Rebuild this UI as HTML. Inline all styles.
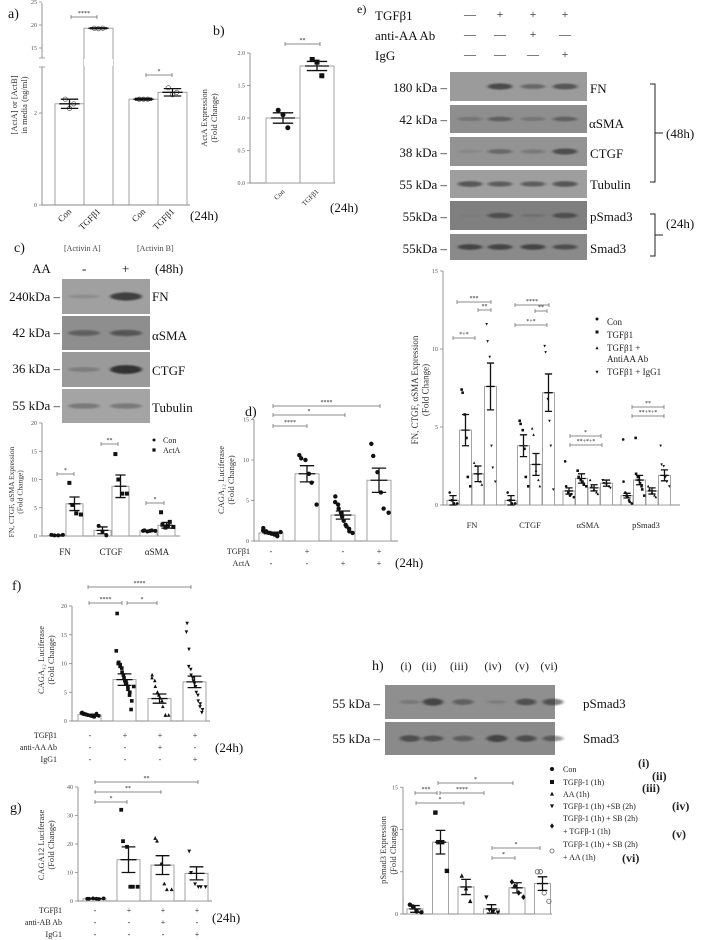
<!DOCTYPE html>
<html><head><meta charset="utf-8"><style>
html,body{margin:0;padding:0;background:#fff}
svg{display:block;font-family:"Liberation Serif",serif}
</style></head><body>
<svg id="fig" width="708" height="940" viewBox="0 0 708 940" xmlns="http://www.w3.org/2000/svg">
<defs><filter id="blur" x="-50%" y="-100%" width="200%" height="300%"><feGaussianBlur stdDeviation="1.6 0.9"/></filter></defs>
<g font-size="14" fill="#111">
<text x="8" y="18">a)</text>
<text x="213" y="35">b)</text>
<text x="357" y="13" font-size="12">e)</text>
<text x="14" y="252">c)</text>
<text x="245" y="416">d)</text>
<text x="12" y="590">f)</text>
<text x="10" y="812">g)</text>
<text x="372" y="670">h)</text>
</g>
<g font-size="13" fill="#111">
<text x="190" y="220">(24h)</text>
<text x="330" y="212">(24h)</text>
<text x="64" y="251" font-size="8" fill="#444">[Activin A]</text>
<text x="137" y="251" font-size="8" fill="#444">[Activin B]</text>
<text x="32" y="273">AA</text>
<text x="82" y="273">-</text>
<text x="122" y="273">+</text>
<text x="155" y="273">(48h)</text>
<text x="60" y="301" text-anchor="end">240kDa –</text>
<text x="60" y="337" text-anchor="end">42 kDa –</text>
<text x="60" y="373" text-anchor="end">36 kDa –</text>
<text x="60" y="410" text-anchor="end">55 kDa –</text>
<text x="152" y="301">FN</text>
<text x="152" y="340">αSMA</text>
<text x="152" y="375">CTGF</text>
<text x="152" y="412">Tubulin</text>
<text x="375" y="20">TGFβ1</text>
<text x="375" y="40">anti-AA Ab</text>
<text x="375" y="60">IgG</text>
<text x="447" y="92" text-anchor="end">180 kDa –</text>
<text x="447" y="124" text-anchor="end">42 kDa –</text>
<text x="447" y="157" text-anchor="end">38 kDa –</text>
<text x="447" y="189" text-anchor="end">55 kDa –</text>
<text x="447" y="221" text-anchor="end">55kDa –</text>
<text x="447" y="253" text-anchor="end">55kDa –</text>
<text x="590" y="93">FN</text>
<text x="589" y="128">αSMA</text>
<text x="590" y="158">CTGF</text>
<text x="590" y="189">Tubulin</text>
<text x="590" y="221">pSmad3</text>
<text x="590" y="253">Smad3</text>
<path d="M650 84 h5 v98 h-5 M655 133 h8" stroke="#222" fill="none"/>
<text x="666" y="138">(48h)</text>
<path d="M650 214 h5 v42 h-5 M655 235 h8" stroke="#222" fill="none"/>
<text x="666" y="228">(24h)</text>
<text x="395" y="567">(24h)</text>
<text x="215" y="752">(24h)</text>
<text x="212" y="922">(24h)</text>
<text x="380" y="708" text-anchor="end">55 kDa –</text>
<text x="380" y="743" text-anchor="end">55 kDa –</text>
<text x="583" y="708">pSmad3</text>
<text x="583" y="743">Smad3</text>
</g>
<g id="dyn"></g>
</svg>
<script>
// ---------- DATA ----------
const aCats=["Con","TGFβ1","Con","TGFβ1"];
const aVals=[2.2,19.3,2.3,2.45];
const aErrs=[0.1,0.1,0.02,0.08];
const aPts=[[2.3,2.1,2.2],[19.3,19.2,19.3],[2.3,2.3,2.3],[2.55,2.4,2.45]];
const aTicksLow=[0,2];
const aTicksHigh=[15,20,25];

const bCats=["Con","TGFβ1"];
const bVals=[1.0,1.8];
const bErrs=[0.08,0.07];
const bPts=[[1.12,1.05,0.85],[1.9,1.86,1.65]];
const bTicks=[0,0.5,1.0,1.5,2.0];

const cCats=["FN","CTGF","αSMA"];
const cSeries=["Con","ActA"];
const cVals=[0.1,5.7,1.0,8.8,0.9,1.9];
const cErrs=[0.1,1.2,0.6,2.0,0.1,0.5];
const cPts=[[0.2,0.1,0.1,0.2],[9.4,5.5,4,3.8],[1.8,0.8,0.1],[14.5,10,7.5,7.5],[0.9,1,0.8,0.9,1,0.9],[4.2,2,1.5,1.8,2.5,1.6]];
const cTicks=[0,5,10,15,20];

const dVals=[1.0,8.3,3.2,7.5];
const dErrs=[0.1,1.0,0.5,1.5];
const dPts=[[1.6,1.3,1.2,1.1,1,1,0.9,0.9,0.8,0.7,0.6,1.1],[10.6,10.2,10,8.3,7.2,4.5],[5.5,4.8,4.5,4,3.5,3,2.5,2,1.8,1.5,1.2,1],[12,10.5,8.5,6,4,3.5]];
const dTicks=[0,5,10,15];
const dRowTgf=["-","+","-","+"];
const dRowAct=["-","-","+","+"];

const eCats=["FN","CTGF","αSMA","pSmad3"];
const eSeries=["Con","TGFβ1","TGFβ1 + AntiAA Ab","TGFβ1 + IgG1"];
const eVals=[0.3,4.8,2.0,7.6, 0.3,3.8,2.6,7.2, 0.9,1.7,1.1,1.4, 0.6,1.6,0.9,1.9];
const eErrs=[0.3,1.0,0.5,1.5, 0.3,0.7,0.7,1.2, 0.2,0.3,0.2,0.2, 0.15,0.3,0.2,0.35];
const ePts=[[0.8,0.3,0.1,0.1],[7.4,7.2,5.8,4.3,1.8,1.2],[2.7,2.5,2.0,1.5,1.3],[11.6,10.5,9.5,3.8,2.4,1.5],
 [0.8,0.3,0.1,0.1],[5.4,5.2,4.8,3.6,1.8,1.2],[4.9,4.5,2.2,1.6,1.2],[10.2,9.8,6.8,5.4,3.8,1.0],
 [2.8,1.2,0.8,0.6,0.7,0.5],[2.2,1.8,1.6,1.5,1.3,1.2],[1.6,1.2,1.0,0.8,0.7],[1.6,1.4,1.3,1.2,1.1],
 [4.2,1.5,0.8,0.6,0.5,0.3,0.2,0.1],[4.3,2.0,1.8,1.6,1.4,1.2,1.0,0.6],[1.2,1.0,0.8,0.6,0.5],[3.8,2.6,2.5,1.8,1.5,1.2]];
const eTicks=[0,5,10,15];

const fVals=[1.1,7.2,3.9,6.8];
const fErrs=[0.1,1.0,0.8,1.0];
const fPts=[[1.5,1.4,1.3,1.2,1.2,1.1,1.1,1,1,1,0.9,0.9,0.8,0.8,0.7,1.3,1.0,0.9],
 [18.7,12.2,10.2,10,9.8,9.5,9.2,8.5,8,7.5,7,7,6.5,6,5.5,5,4.5,3.5,2,6],
 [8,7.5,7,6,5,4.5,4,3.5,2.5,1,1,1],
 [17,15.5,12.5,9.5,9,8,7.5,7,6.5,6,5,4.5,3.5,3,2.5,2,1.5]];
const fTicks=[0,5,10,15,20];
const fRowTgf=["-","+","+","+"];
const fRowAnti=["-","-","+","-"];
const fRowIgg=["-","-","-","+"];

const gVals=[0.8,14.5,12.6,9.7];
const gErrs=[0.1,4.5,3.3,2.3];
const gPts=[[0.8,0.8,0.9,0.8,0.7,0.9],[32,21,19,5,5,5],[22,21,13,6,4,4],[17.5,10,6,5,5,5]];
const gTicks=[0,10,20,30,40];
const gRowTgf=["-","+","+","+"];
const gRowAnti=["-","-","+","-"];
const gRowIgg=["-","-","-","+"];

const hVals=[0.6,8.5,3.2,0.6,3.1,3.6];
const hErrs=[0.4,1.4,0.9,0.5,0.6,0.8];
const hPts=[[1.1,0.9,0.3,0.2],[12,8.5,8.5,5.1],[4.5,3,1.5],[2,0.5,0.3,0.2],[3.8,3.3,2.5,2],[5,5,2.5,1.5]];
const hTicks=[0,5,10,15];
const hNumerals=["(i)","(ii)","(iii)","(iv)","(v)","(vi)"];

// blot band intensities
const eBlot=[[0,0.8,0.5,0.7],[0.3,0.5,0.3,0.5],[0.1,0.45,0.3,0.75],[0.7,0.6,0.6,0.7],[0.05,0.6,0.15,0.6],[0.8,0.8,0.8,0.7]];
const cBlot=[[0.15,0.9],[0.5,0.6],[0.3,1],[0.4,0.4]];
const hBlot=[[0.2,0.8,0.5,0.15,0.7,0.7],[0.7,0.6,0.5,0.8,0.65,0.55]];

// ---------- HELPERS ----------
const NS="http://www.w3.org/2000/svg";
const root=document.getElementById('dyn');
function mk(tag,attrs,name){
  const e=document.createElementNS(NS,tag);
  for(const k in attrs) e.setAttribute(k,attrs[k]);
  
  
  root.appendChild(e);return e;
}
function txt(x,y,s,size,name,extra){
  const t=mk('text',Object.assign({x:x,y:y,'font-size':size,fill:'#222'},extra||{}),name);
  t.textContent=s;return t;
}
function marker(type,x,y,r,name){
  if(type==='circle') return mk('circle',{cx:x,cy:y,r:r,fill:'#111'},name);
  if(type==='ocircle') return mk('circle',{cx:x,cy:y,r:r,fill:'none',stroke:'#666','stroke-width':0.8},name);
  if(type==='square') return mk('rect',{x:x-r,y:y-r,width:2*r,height:2*r,fill:'#111'},name);
  if(type==='tri') return mk('path',{d:`M${x} ${y-r*1.2}L${x+r} ${y+r*0.8}L${x-r} ${y+r*0.8}Z`,fill:'#111'},name);
  if(type==='itri') return mk('path',{d:`M${x} ${y+r*1.2}L${x+r} ${y-r*0.8}L${x-r} ${y-r*0.8}Z`,fill:'#111'},name);
  if(type==='diamond') return mk('path',{d:`M${x} ${y-r*1.3}L${x+r} ${y}L${x} ${y+r*1.3}L${x-r} ${y}Z`,fill:'#111'},name);
}
function bracket(x1,x2,y,label,name){
  mk('path',{d:`M${x1} ${y-2}v4M${x1} ${y}H${x2}M${x2} ${y-2}v4`,stroke:'#666','stroke-width':0.7,fill:'none'},name);
  txt((x1+x2)/2,y-2,label,6,name+'-label',{'text-anchor':'middle'});
}
function barChart(cfg,vals,errs,pts,markers){
  const n=vals.length;
  const ys=cfg.yfn||(v=>cfg.y0-v*cfg.ppu);
  const bx=i=>cfg.start+i*cfg.step+Math.floor(i/(cfg.group||n))*(cfg.gextra||0);
  for(let i=0;i<n;i++){
    const x=bx(i),y=ys(vals[i]);
    mk('rect',{x:x,y:y,width:cfg.w,height:cfg.y0-y,fill:'#fff',stroke:'#999','stroke-width':0.9},cfg.id+'-bar');
    const cx=x+cfg.w/2;
    const m=markers[i%markers.length];
    const p=pts[i];
    const spread=Math.min(cfg.w*0.8,p.length*cfg.pr*1.6);
    p.forEach((v,j)=>{
      const off=p.length>1?(j/(p.length-1)-0.5)*spread*(j%2?1:0.8):0;
      marker(m,cx+off,ys(v),cfg.pr,cfg.id+'-point');
    });
    const e1=ys(vals[i]+errs[i]),e2=ys(Math.max(0,vals[i]-errs[i]));
    mk('path',{d:`M${cx} ${e1}V${e2}M${cx-cfg.w*0.3} ${e1}h${cfg.w*0.6}M${cx-cfg.w*0.3} ${e2}h${cfg.w*0.6}M${cx-cfg.w*0.35} ${ys(vals[i])}h${cfg.w*0.7}`,stroke:'#111','stroke-width':1.3,fill:'none'},cfg.id+'-error-bar');
  }
  return bx;
}
function axes(cfg,ticks,fmt){
  const ys=cfg.yfn||(v=>cfg.y0-v*cfg.ppu);
  const top=ys(ticks[ticks.length-1]);
  mk('path',{d:`M${cfg.ax} ${top}V${cfg.y0}H${cfg.xend}`,stroke:'#888','stroke-width':0.9,fill:'none'},cfg.id+'-axes');
  ticks.forEach(t=>{
    const y=ys(t);
    mk('path',{d:`M${cfg.ax-3} ${y}H${cfg.ax}`,stroke:'#888','stroke-width':0.8},cfg.id+'-y-tick');
    txt(cfg.ax-5,y+2,fmt?fmt(t):String(t),6,cfg.id+'-y-tick-label',{'text-anchor':'end',fill:'#555'});
  });
}
function ylabel(x,y,lines,size,name){
  const t=mk('text',{transform:`translate(${x},${y}) rotate(-90)`,'font-size':size,'text-anchor':'middle',fill:'#333'},name);
  lines.forEach((l,i)=>{const s=document.createElementNS(NS,'tspan');s.setAttribute('x',0);s.setAttribute('dy',i?size*1.15:0);s.textContent=l;t.appendChild(s);});
}
function blot(x,y,w,h,lanes,ints,bg,name){
  mk('rect',{x:x,y:y,width:w,height:h,fill:bg},name);
  ints.forEach((v,i)=>{ if(v>0) mk('ellipse',{cx:lanes[i],cy:y+h/2,rx:w/lanes.length*0.36,ry:Math.max(1.2,h*0.07*(0.6+v*1.2)),fill:'#1a1a1a','fill-opacity':Math.min(0.9,v*0.8),filter:'url(#blur)'},name+'-band'); });
}

// ---------- PANEL A ----------
const aCfg={id:'a',ax:42,y0:205,xend:190,start:55,step:29,w:29,group:2,gextra:16,pr:2.2,
  yfn:v=> v<=3.5 ? 205-v*46 : 48-(v-15)*4.6};
const aBx=barChart(aCfg,aVals,aErrs,aPts,['ocircle']);
mk('path',{d:`M42 3V58M42 67V205H190`,stroke:'#888','stroke-width':0.9,fill:'none'},'a-axes');
mk('path',{d:`M39 58h6M39 67h6`,stroke:'#888','stroke-width':0.8},'a-axis-break');
mk('rect',{x:84,y:59,width:29,height:7,fill:'#fff'},'a-bar-break');
aTicksLow.concat(aTicksHigh).forEach(t=>{const y=aCfg.yfn(t);
  mk('path',{d:`M39 ${y}H42`,stroke:'#888','stroke-width':0.8},'a-y-tick');
  txt(37,y+2,String(t),6,'a-y-tick-label',{'text-anchor':'end',fill:'#555'});});
aCats.forEach((c,i)=>txt(0,0,c,9,'a-x-label',{'text-anchor':'end',transform:`translate(${aBx(i)+17},${212}) rotate(-45)`}));
bracket(71,97,17,'****','a-sig-bracket');
bracket(146,172,75,'*','a-sig-bracket');
ylabel(17,105,['[ActA] or [ActB]','in media  (ng/ml)'],8.5,'a-y-axis-title');

// ---------- PANEL B ----------
const bCfg={id:'b',ax:250,y0:183,xend:335,ppu:65,start:266,step:34,w:34,pr:2.5};
axes(bCfg,bTicks,t=>t.toFixed(1));
const bBx=barChart(bCfg,bVals,bErrs,bPts,['circle','square']);
bCats.forEach((c,i)=>txt(0,0,c,7,'b-x-label',{'text-anchor':'end',transform:`translate(${bBx(i)+19},${192}) rotate(-45)`}));
bracket(285,320,44,'**','b-sig-bracket');
ylabel(207,118,['ActA Expression','(Fold Change)'],8.5,'b-y-axis-title');

// ---------- PANEL E ----------
const eLanes=[470,500,533,565];
const eRows=[[72,29,'#9b9b9b'],[105,28,'#8e8e8e'],[137,29,'#939393'],[170,28,'#9e9e9e'],[201,29,'#7f7f7f'],[234,26,'#8a8a8a']];
eRows.forEach((r,i)=>blot(450,r[0],137,r[1],eLanes,eBlot[i],r[2],'e-blot-row'));
[["—","+","+","+"],["—","—","+","—"],["—","—","—","+"]].forEach((row,ri)=>row.forEach((s,i)=>txt(eLanes[i],18+ri*20,s,12,'e-header-sign',{'text-anchor':'middle'})));
const eCfg={id:'e',ax:443,y0:505,xend:680,ppu:15.6,start:447,step:12.5,w:12,group:4,gextra:8,pr:1.3};
axes(eCfg,eTicks);
const eBx=barChart(eCfg,eVals,eErrs,ePts,['circle','square','tri','itri']);
eCats.forEach((c,i)=>txt(eBx(i*4)+25,528,c,8.5,'e-x-label',{'text-anchor':'middle'}));
[[302,457,491,'***'],[310,478,491,'**'],[338,453,475,'*+*'],[305,515,549,'****'],[311,535,547,'**'],[325,515,547,'*+*'],[436,570,601,'*'],[445,570,602,'**+*+*'],[407,632,664,'**'],[416,632,664,'**+*+*']]
 .forEach(b=>bracket(b[1],b[2],b[0],b[3],'e-sig-bracket'));
ylabel(418,390,['FN, CTGF, αSMA Expression','(Fold Change)'],9,'e-y-axis-title');
const eLegY=[322,335,351,375];
['circle','square','tri','itri'].forEach((m,i)=>{marker(m,597,eLegY[i]-3,1.5,'e-legend-marker');});
txt(607,325,'Con',9,'e-legend-con');
txt(607,338,'TGFβ1',9,'e-legend-tgf');
txt(607,351,'TGFβ1 +',9,'e-legend-anti-1');
txt(607,362,'AntiAA Ab',9,'e-legend-anti-2');
txt(607,375,'TGFβ1 + IgG1',9,'e-legend-igg');

// ---------- PANEL C ----------
const cLanes=[84,126];
[[279,35,'#a0a0a0'],[316,34,'#8e8e8e'],[352,35,'#9a9a9a'],[389,34,'#a4a4a4']].forEach((r,i)=>blot(62,r[0],88,r[1],cLanes,cBlot[i],r[2],'c-blot-row'));
const cCfg={id:'c',ax:42,y0:536,xend:180,ppu:5.65,start:48,step:18,w:17,group:2,gextra:10,pr:2};
axes(cCfg,cTicks);
const cBx=barChart(cCfg,cVals,cErrs,cPts,['circle','square']);
cCats.forEach((c,i)=>txt(cBx(i*2)+17,555,c,9,'c-x-label',{'text-anchor':'middle'}));
bracket(57,74,474,'*','c-sig-bracket');
bracket(101,118,444,'**','c-sig-bracket');
bracket(146,164,503,'*','c-sig-bracket');
ylabel(14,492,['FN, CTGF, αSMA Expression','(Fold Change)'],7.5,'c-y-axis-title');
marker('circle',154,440,1.5,'c-legend-marker');marker('square',154,450,1.6,'c-legend-marker');
txt(163,443,cSeries[0],8,'c-legend-con');txt(163,453,cSeries[1],8,'c-legend-acta');

// ---------- PANEL D ----------
const dCfg={id:'d',ax:254,y0:541,xend:398,ppu:8.1,start:259,step:36,w:24,pr:2.2};
axes(dCfg,dTicks);
const dBx=barChart(dCfg,dVals,dErrs,dPts,['circle']);
txt(250,554,'TGFβ1',8,'d-row-tgf-label',{'text-anchor':'end'});
txt(250,566,'ActA',8,'d-row-acta-label',{'text-anchor':'end'});
dRowTgf.forEach((s,i)=>txt(dBx(i)+12,554,s,8,'d-row-tgf-sign',{'text-anchor':'middle'}));
dRowAct.forEach((s,i)=>txt(dBx(i)+12,566,s,8,'d-row-acta-sign',{'text-anchor':'middle'}));
bracket(273,380,406,'****','d-sig-bracket');
bracket(273,345,415,'*','d-sig-bracket');
bracket(273,307,426,'****','d-sig-bracket');
ylabel(224,480,['CAGA₁₂ Luciferase','(Fold Change)'],8.5,'d-y-axis-title');

// ---------- PANEL F ----------
const fCfg={id:'f',ax:72,y0:721,xend:210,ppu:5.75,start:78,step:35,w:23,pr:1.8};
axes(fCfg,fTicks);
const fBx=barChart(fCfg,fVals,fErrs,fPts,['circle','square','tri','itri']);
txt(57,738,'TGFβ1',8,'f-row-tgf-label',{'text-anchor':'end'});
txt(57,750,'anti-AA Ab',8,'f-row-anti-label',{'text-anchor':'end'});
txt(57,762,'IgG1',8,'f-row-igg-label',{'text-anchor':'end'});
[[fRowTgf,738],[fRowAnti,750],[fRowIgg,762]].forEach(r=>r[0].forEach((s,i)=>txt(fBx(i)+12,r[1],s,8,'f-row-sign',{'text-anchor':'middle'})));
bracket(88,191,587,'****','f-sig-bracket');
bracket(89,122,603,'****','f-sig-bracket');
bracket(127,157,603,'*','f-sig-bracket');
ylabel(44,660,['CAGA₁₂ Luciferase','(Fold Change)'],8.5,'f-y-axis-title');

// ---------- PANEL G ----------
const gCfg={id:'g',ax:78,y0:901,xend:212,ppu:2.85,start:83,step:34,w:23,pr:1.9};
axes(gCfg,gTicks);
const gBx=barChart(gCfg,gVals,gErrs,gPts,['circle','square','tri','itri']);
txt(62,913,'TGFβ1',8,'g-row-tgf-label',{'text-anchor':'end'});
txt(62,925,'anti-AB Ab',8,'g-row-anti-label',{'text-anchor':'end'});
txt(62,937,'IgG1',8,'g-row-igg-label',{'text-anchor':'end'});
[[gRowTgf,913],[gRowAnti,925],[gRowIgg,937]].forEach(r=>r[0].forEach((s,i)=>txt(gBx(i)+12,r[1],s,8,'g-row-sign',{'text-anchor':'middle'})));
bracket(95,198,782,'**','g-sig-bracket');
bracket(95,161,792,'**','g-sig-bracket');
bracket(95,127,802,'*','g-sig-bracket');
ylabel(44,845,['CAGA12 Luciferase','(Fold Change)'],8.5,'g-y-axis-title');

// ---------- PANEL H ----------
const hLanes=[410,433,463,497,526,553];
blot(385,685,170,34,hLanes,hBlot[0],'#8f8f8f','h-blot-psmad');
blot(385,722,170,33,hLanes,hBlot[1],'#8a8a8a','h-blot-smad');
hNumerals.forEach((s,i)=>txt(hLanes[i]-4,670,s,12,'h-lane-numeral',{'text-anchor':'middle'}));
const hCfg={id:'h',ax:403,y0:914,xend:552,ppu:8.45,start:407,step:25.5,w:16,pr:2.2};
axes(hCfg,hTicks);
barChart(hCfg,hVals,hErrs,hPts,['circle','square','tri','itri','diamond','ocircle']);
bracket(415,437,793,'***','h-sig-bracket');
bracket(440,484,793,'****','h-sig-bracket');
bracket(438,513,783,'*','h-sig-bracket');
bracket(416,464,803,'*','h-sig-bracket');
bracket(492,540,848,'*','h-sig-bracket');
bracket(492,515,858,'*','h-sig-bracket');
ylabel(386,850,['pSmad3 Expression','(Fold Change)'],8.5,'h-y-axis-title');
[['circle',769],['square',782],['tri',794],['itri',806],['diamond',826],['ocircle',851]].forEach(m=>marker(m[0],552,m[1],2,'h-legend-marker'));
[['Con',772],['TGFβ-1 (1h)',785],['AA (1h)',797],['TGFβ-1 (1h) +SB (2h)',809],['TGFβ-1 (1h) + SB (2h)',821],['+ TGFβ-1 (1h)',834],['TGFβ-1 (1h) + SB (2h)',847],['+ AA (1h)',860]]
 .forEach(l=>txt(563,l[1],l[0],8,'h-legend-text'));
[['(i)',638,767],['(ii)',652,780],['(iii)',642,792],['(iv)',672,810],['(v)',672,838],['(vi)',622,862]]
 .forEach(l=>txt(l[1],l[2],l[0],12,'h-legend-numeral',{'font-weight':'bold'}));
</script>
</body></html>
